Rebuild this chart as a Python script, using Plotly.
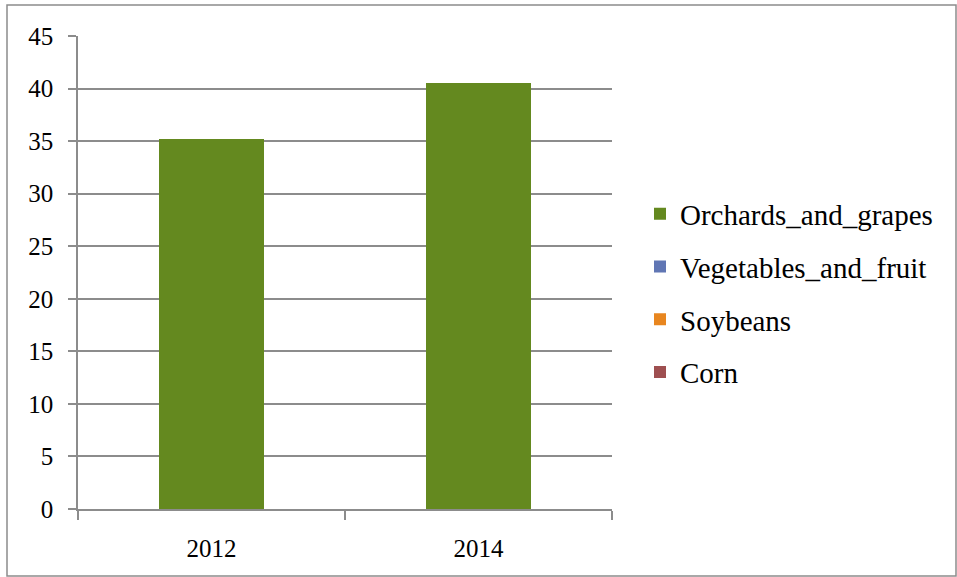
import plotly.graph_objects as go

years = ["2012", "2014"]
corn = [0, 0]
soybeans = [0, 0]
vegetables_and_fruit = [0, 0]
orchards_and_grapes = [35.2, 40.5]
y_ticks = [0, 5, 10, 15, 20, 25, 30, 35, 40, 45]

series = [
    ("Corn", corn, "#9E4F50", 4),
    ("Soybeans", soybeans, "#E8861F", 3),
    ("Vegetables_and_fruit", vegetables_and_fruit, "#6076B4", 2),
    ("Orchards_and_grapes", orchards_and_grapes, "#64891F", 1),
]

fig = go.Figure()
for name, vals, col, rank in series:
    fig.add_trace(go.Bar(x=years, y=vals, name=name, marker_color=col,
                         marker_line_width=0, legendgroup=name,
                         legendrank=rank))

L, R, T, B = 78, 345, 36, 68
W, H = 957, 577
pw, ph = W - L - R, H - T - B

def px_x(p):
    return (p - L) / pw

def px_y(p):
    return (H - B - p) / ph

FONT = "Liberation Serif"
grid = "#8C8C8C"
tickfont = dict(family=FONT, size=25, color="black")

fig.update_layout(
    width=W, height=H,
    margin=dict(l=L, r=R, t=T, b=B),
    paper_bgcolor="white", plot_bgcolor="white",
    barmode="stack", bargap=0.605,
    font=dict(family=FONT, size=25, color="black"),
    showlegend=True,
    legend=dict(x=px_x(640), y=px_y(293), xanchor="left", yanchor="middle",
                traceorder="grouped", tracegroupgap=12,
                font=dict(family=FONT, size=29, color="black"),
                bgcolor="rgba(0,0,0,0)"),
    xaxis=dict(type="category", tickson="boundaries", ticks="outside",
               ticklen=9, tickcolor=grid, tickwidth=1.5,
               showline=True, linecolor=grid, linewidth=1.5,
               showgrid=False, tickfont=tickfont, ticklabelstandoff=16),
    yaxis=dict(range=[0, 45], tickvals=y_ticks, ticks="outside", ticklen=8,
               tickcolor=grid, tickwidth=1.5, showline=True, linecolor=grid,
               linewidth=1.5, showgrid=True, gridcolor=grid, gridwidth=1.5,
               zeroline=False, tickfont=tickfont, ticklabelstandoff=10),
    shapes=[dict(type="rect", xref="paper", yref="paper",
                 x0=px_x(7), x1=px_x(956), y0=px_y(576), y1=px_y(5),
                 line=dict(color="#8C8C8C", width=1.5), layer="below")],
)

fig.write_html("out.html", config={"displayModeBar": False},
               post_script="document.body.style.margin='0';")
